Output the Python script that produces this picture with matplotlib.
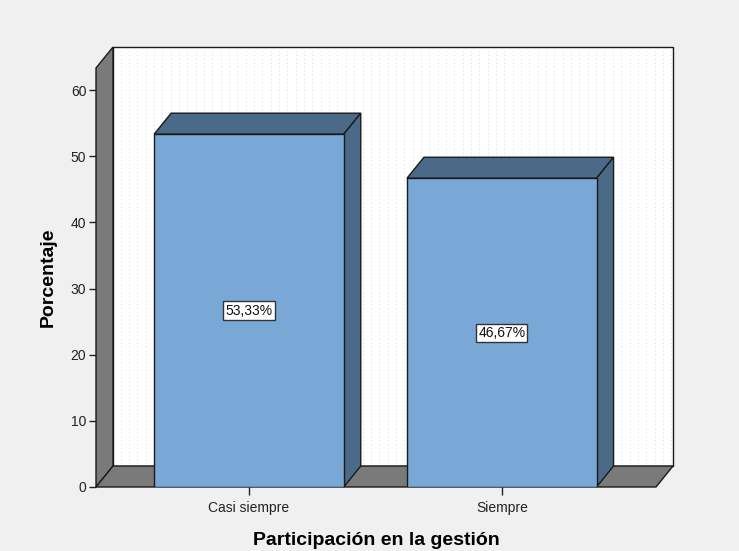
import matplotlib.pyplot as plt
from matplotlib.patches import Polygon
import numpy as np

plt.rcParams['font.family'] = ['Liberation Sans', 'DejaVu Sans']

categorias = ['Casi siempre', 'Siempre']
porcentajes = [53.33, 46.67]
etiquetas = ['53,33%', '46,67%']

y_max = 63.33
x_lim = (-0.605, 1.61)
ancho = 0.75
# profundidad del efecto 3D en unidades de datos
dx, dy = 0.0672, 3.17

cara = '#79a8d7'
sombra = '#4b6a88'
pared = '#7a7a7a'
borde = '#1a1a1a'

fig = plt.figure(figsize=(7.39, 5.51), dpi=100)
fig.patch.set_facecolor('#f0f0f0')
ax = fig.add_axes([96 / 739, 64 / 551, 560 / 739, 419 / 551])
ax.set_xlim(*x_lim)
ax.set_ylim(0, y_max)
ax.patch.set_visible(False)

x0, x1 = x_lim

def poli(pts, fc, z):
    ax.add_patch(Polygon(pts, closed=True, facecolor=fc, edgecolor=borde,
                         linewidth=1.0, clip_on=False, zorder=z))

# pared del fondo con punteado
poli([(x0 + dx, dy), (x1 + dx, dy), (x1 + dx, y_max + dy), (x0 + dx, y_max + dy)], 'white', 1)
for xv in np.arange(x0 + dx + 0.03, x1 + dx, 0.033):
    ax.plot([xv, xv], [dy + 0.3, y_max + dy - 0.3], color='#dadada', lw=0.7,
            ls=(0, (1, 3)), clip_on=False, zorder=1.5)
# pared izquierda y suelo
poli([(x0, 0), (x0 + dx, dy), (x0 + dx, y_max + dy), (x0, y_max)], pared, 2)
poli([(x0, 0), (x1, 0), (x1 + dx, dy), (x0 + dx, dy)], pared, 2)

xs = np.arange(len(categorias))
barras = ax.bar(xs, porcentajes, width=ancho, color=cara, edgecolor=borde,
                linewidth=1.0, zorder=4)
for b in barras:
    xa, w, h = b.get_x(), b.get_width(), b.get_height()
    poli([(xa, h), (xa + w, h), (xa + w + dx, h + dy), (xa + dx, h + dy)], sombra, 3)
    poli([(xa + w, 0), (xa + w + dx, dy), (xa + w + dx, h + dy), (xa + w, h)], sombra, 3)

for x, v, t in zip(xs, porcentajes, etiquetas):
    ax.text(x, v / 2, t, ha='center', va='center', fontsize=10, color='#111111', zorder=6,
            bbox=dict(boxstyle='square,pad=0.15', facecolor='white', edgecolor='#333333', lw=1))

for s in ['top', 'right', 'left', 'bottom']:
    ax.spines[s].set_visible(False)

ax.set_xticks(xs)
ax.set_xticklabels(categorias, fontsize=10, color='#222222')
ax.set_yticks(range(0, 61, 10))
ax.tick_params(axis='y', labelsize=10, length=5, width=1, colors='#222222', pad=2)
ax.tick_params(axis='x', length=6, width=1, colors='#222222', pad=4)

ax.set_ylabel('Porcentaje', fontsize=14, fontweight='bold', labelpad=10)
ax.set_xlabel('Participación en la gestión', fontsize=14, fontweight='bold', labelpad=12)

fig.savefig('out.png', dpi=100, facecolor=fig.get_facecolor())
